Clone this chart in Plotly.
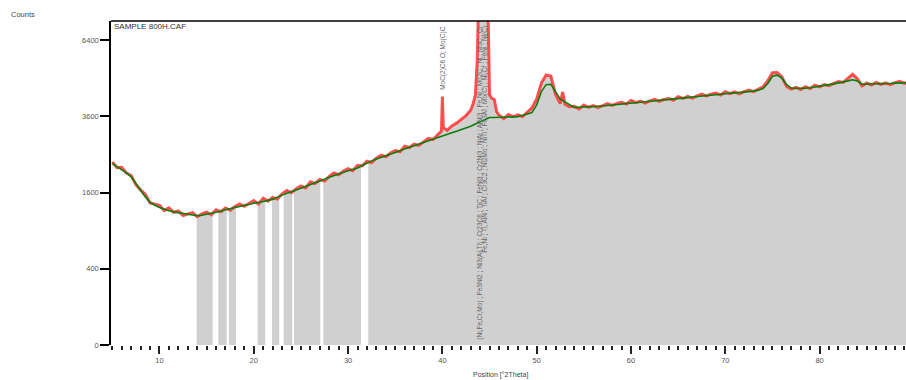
import numpy as np
import plotly.graph_objects as go

# ---------------- data ----------------
grid_2theta = np.round(np.arange(5.0, 89.51, 0.5), 2)  # 170 points

fit_counts = [
    2266, 2190, 2116, 2040, 1945, 1800, 1640, 1510, 1406, 1345,
    1303, 1268, 1239, 1220, 1204, 1186, 1170, 1158, 1149, 1160,
    1176, 1190, 1204, 1230, 1260, 1282, 1303, 1322, 1340, 1362,
    1384, 1398, 1414, 1435, 1459, 1505, 1552, 1584, 1616, 1652,
    1689, 1726, 1764, 1806, 1849, 1892, 1936, 1976, 2016, 2052,
    2088, 2120, 2153, 2218, 2285, 2333, 2381, 2420, 2460, 2505,
    2550, 2600, 2652, 2693, 2735, 2782, 2830, 2878, 2927, 2965,
    3003, 3052, 3102, 3147, 3192, 3243, 3295, 3362, 3434, 3500,
    3564, 3564, 3564, 3570, 3576, 3582, 3588, 3620, 3672, 3721,
    3969, 4422, 4665, 4679, 4422, 4160, 4070, 3969, 3881, 3888,
    3894, 3900, 3906, 3918, 3931, 3950, 3969, 3988, 4007, 4026,
    4045, 4052, 4058, 4070, 4083, 4096, 4109, 4122, 4134, 4153,
    4173, 4192, 4212, 4231, 4251, 4270, 4290, 4303, 4316, 4330,
    4343, 4356, 4369, 4382, 4396, 4416, 4436, 4470, 4529, 4706,
    4970, 5013, 4900, 4665, 4543, 4536, 4529, 4543, 4556, 4577,
    4597, 4631, 4665, 4692, 4720, 4768, 4802, 4844, 4802, 4679,
    4679, 4679, 4679, 4685, 4692, 4706, 4720, 4726, 4733, 4740,
]

obs_grid_counts = [
    2306, 2166, 2172, 2032, 1977, 1768, 1656, 1558, 1390, 1369,
    1343, 1244, 1295, 1212, 1236, 1154, 1186, 1206, 1133, 1184,
    1216, 1166, 1260, 1222, 1292, 1250, 1319, 1370, 1324, 1386,
    1434, 1368, 1484, 1425, 1499, 1465, 1572, 1644, 1596, 1682,
    1739, 1696, 1834, 1796, 1889, 1852, 1956, 2036, 1996, 2082,
    2138, 2090, 2223, 2208, 2325, 2293, 2401, 2480, 2440, 2535,
    2600, 2570, 2722, 2683, 2775, 2742, 2850, 2938, 2907, 3045,
    4250, 3172, 3302, 3387, 3492, 3623, 3795, 4300, 9200, 9300,
    4300, 4150, 3634, 3530, 3656, 3592, 3648, 3590, 3722, 3871,
    4169, 4722, 5015, 4979, 4322, 4010, 3990, 3909, 3921, 3838,
    3964, 3890, 3946, 3878, 3951, 4010, 3949, 4018, 4057, 3996,
    4115, 4042, 4098, 4030, 4103, 4156, 4089, 4152, 4184, 4123,
    4243, 4182, 4252, 4191, 4271, 4330, 4270, 4333, 4366, 4300,
    4413, 4346, 4409, 4342, 4416, 4476, 4416, 4500, 4589, 4806,
    5100, 5113, 4950, 4605, 4503, 4566, 4489, 4593, 4526, 4647,
    4587, 4671, 4625, 4712, 4780, 4748, 4902, 5044, 4882, 4619,
    4729, 4649, 4749, 4675, 4732, 4666, 4740, 4786, 4713, 4760,
]

# extra observed points around the sharp reflections
peak_2theta = [39.9, 40.1, 43.25, 43.7, 43.8, 44.2, 44.75, 44.88, 44.95, 45.2, 45.75, 52.75, 52.9]
peak_counts = [3150, 3250, 4000, 5600, 7400, 9600, 8400, 6800, 5200, 4200, 3750, 4400, 4100]

# 2theta ranges drawn with the grey fill
fill_ranges = [
    (13.94, 15.64), (16.24, 17.13), (17.37, 18.11), (20.41, 21.22),
    (21.93, 22.70), (23.17, 24.08), (24.26, 27.05), (27.37, 31.37),
    (32.14, 89.5),
]

y_tick_counts = [0, 400, 1600, 3600, 6400]
y_tick_labels = ["0", "400", "1600", "3600", "6400"]

phase_labels = [
    (40.05, "MoC(2)C6 O; Mo(C)C"),
    (43.95, "(Ni,Fe,Cr,Mo) ; Fe3Ni2 ; Ni3(Al,Ti) ; Cr23C6 ; TiC ; FeNi3 ; Cr2Ni3 ; NiAl ; AlNi3 ; Fe,Ni ; Mo2C ; Ni ; MoC ; Cr"),
    (44.45, "Fe,Ni ; Ti, AlN ; TiAl ; Cr3C2 ; Ni2Mo ; NiTi ; Fe3Al ; Mo(C) ; Ni,Cr ; FeNi ; Ni(C)"),
]

# ---------------- build ----------------
obs_x = np.concatenate([grid_2theta, peak_2theta])
obs_y = np.concatenate([obs_grid_counts, peak_counts]).astype(float)
order = np.argsort(obs_x)
obs_x = obs_x[order]
obs_y = obs_y[order]
obs_s = np.sqrt(obs_y)
fit_s = np.sqrt(np.array(fit_counts, dtype=float))

fig = go.Figure()

for a, b in fill_ranges:
    inside = (obs_x > a) & (obs_x < b)
    xs = np.concatenate([[a], obs_x[inside], [b]])
    ys = np.concatenate([[np.interp(a, obs_x, obs_s)], obs_s[inside], [np.interp(b, obs_x, obs_s)]])
    fig.add_trace(go.Scatter(x=xs, y=ys, mode="lines", fill="tozeroy",
                             fillcolor="#d0d0d0", line=dict(width=0, color="#d0d0d0"),
                             hoverinfo="skip", showlegend=False))

fig.add_trace(go.Scatter(x=obs_x, y=obs_s, mode="lines",
                         line=dict(color="rgba(255,50,50,0.85)", width=3),
                         showlegend=False))
fig.add_trace(go.Scatter(x=grid_2theta, y=fit_s, mode="lines",
                         line=dict(color="#0a7d0a", width=1.6),
                         showlegend=False))

PW, PH = 795, 324
font = "Liberation Sans, Arial, sans-serif"

ann = []
for xpos, txt in phase_labels:
    ann.append(dict(x=xpos, y=1, xref="x", yref="paper", text=txt, showarrow=False,
                    textangle=-90, yanchor="top", xanchor="center", yshift=-3,
                    font=dict(family=font, size=6.5, color="#666666")))
ann.append(dict(x=0, y=1, xref="paper", yref="paper", text="SAMPLE 800H.CAF",
                showarrow=False, xanchor="left", yanchor="top", xshift=1, yshift=1,
                font=dict(family=font, size=8, color="#333333")))
ann.append(dict(x=(9 - 111) / PW, y=(345 - 15) / PH, xref="paper", yref="paper",
                text="Counts", showarrow=False, xanchor="left", yanchor="middle",
                font=dict(family=font, size=7.5, color="#444444")))
ann.append(dict(x=(500 - 111) / PW, y=(345 - 375) / PH, xref="paper", yref="paper",
                text="Position [°2Theta]", showarrow=False, xanchor="center", yanchor="middle",
                font=dict(family=font, size=7, color="#444444")))

fig.update_layout(
    width=906, height=380,
    margin=dict(l=111, r=0, t=21, b=35),
    paper_bgcolor="white", plot_bgcolor="white",
    font=dict(family=font, size=7.5, color="#555555"),
    annotations=ann,
    shapes=[dict(type="line", xref="paper", yref="paper", x0=0, x1=1, y0=1, y1=1,
                 line=dict(color="black", width=1.5))],
)
fig.update_xaxes(range=[4.86, 89.16], showgrid=False, zeroline=False, showline=False,
                 ticks="outside", tick0=0, dtick=10, ticklen=8, tickwidth=1.5, tickcolor="#222222",
                 tickfont=dict(family=font, size=7.5, color="#555555"),
                 minor=dict(ticks="outside", tick0=0, dtick=1, ticklen=4, tickwidth=1.5,
                            tickcolor="#222222", showgrid=False))
fig.update_yaxes(range=[0, 85], showgrid=False, zeroline=False, showline=True,
                 linecolor="black", linewidth=1.5,
                 tickmode="array", tickvals=list(np.sqrt(y_tick_counts)), ticktext=y_tick_labels,
                 ticks="outside", ticklen=9, tickwidth=1.5, tickcolor="black",
                 tickfont=dict(family=font, size=7.5, color="#555555"))

fig.write_html("out.html", config={"displayModeBar": False},
               post_script="document.body.style.margin='0';document.body.style.overflow='hidden';")
